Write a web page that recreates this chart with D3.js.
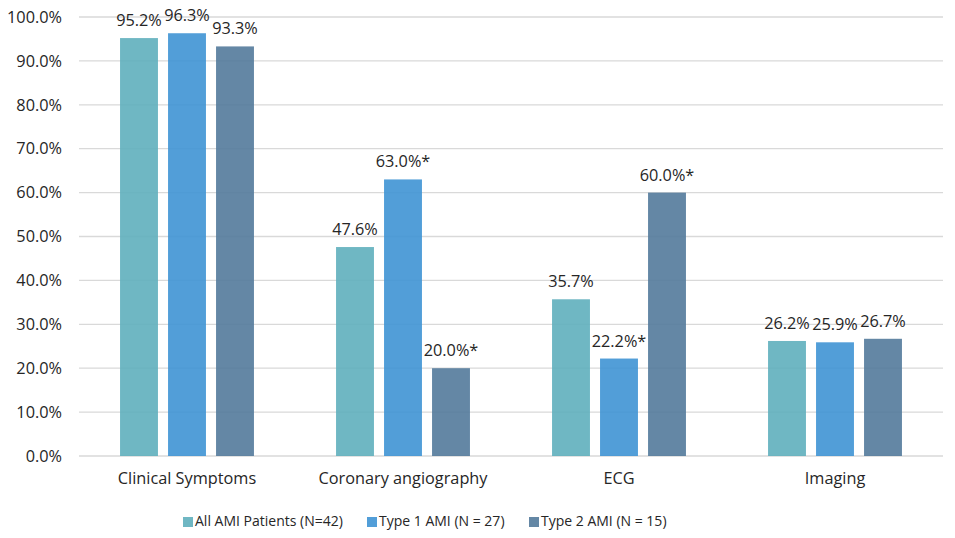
<!DOCTYPE html>
<html>
<head>
<meta charset="utf-8">
<script src="https://cdn.jsdelivr.net/npm/d3@7"></script>
<style>
  body { margin: 0; background: #fff; }
  text { font-family: "Open Sans", "Noto Sans", sans-serif; fill: #262626; }
</style>
</head>
<body>
<div id="chart-area"></div>
<script>
// data
const categories = ["Clinical Symptoms", "Coronary angiography", "ECG", "Imaging"]
const seriesNames = ["All AMI Patients (N=42)", "Type 1 AMI (N = 27)", "Type 2 AMI (N = 15)"]
const allAmi = [95.2, 47.6, 35.7, 26.2]
const type1 = [96.3, 63.0, 22.2, 25.9]
const type2 = [93.3, 20.0, 60.0, 26.7]
const allAmiFlags = ["", "", "", ""]
const type1Flags = ["", "*", "*", ""]
const type2Flags = ["", "*", "*", ""]
const yTicks = [0, 10, 20, 30, 40, 50, 60, 70, 80, 90, 100]

// semi-transparent bars, grid shows through
const COLORS = ["#5fafbd", "#3f94d4", "#537a9b"]

const W = 955, H = 538
const MARGIN = { LEFT: 79, RIGHT: 12, TOP: 17, BOTTOM: 82 }
const WIDTH = W - MARGIN.LEFT - MARGIN.RIGHT
const HEIGHT = H - MARGIN.TOP - MARGIN.BOTTOM

const series = [
  { name: seriesNames[0], values: allAmi, flags: allAmiFlags },
  { name: seriesNames[1], values: type1, flags: type1Flags },
  { name: seriesNames[2], values: type2, flags: type2Flags }
]

const svg = d3.select("#chart-area").append("svg")
  .attr("width", W)
  .attr("height", H)

const g = svg.append("g")
  .attr("transform", `translate(${MARGIN.LEFT}, ${MARGIN.TOP})`)

const x = d3.scaleBand()
  .domain(categories)
  .range([0, WIDTH])

const x1 = d3.scaleBand()
  .domain(d3.range(series.length))
  .range([x.bandwidth() * 0.19, x.bandwidth() * 0.81])
  .paddingInner(0.21)

const y = d3.scaleLinear()
  .domain([0, 100])
  .range([HEIGHT, 0])

// gridlines
g.append("g")
  .selectAll("line")
  .data(yTicks)
  .enter().append("line")
    .attr("x1", 0)
    .attr("x2", WIDTH)
    .attr("y1", d => y(d))
    .attr("y2", d => y(d))
    .attr("stroke", "#d9d9d9")
    .attr("stroke-width", 1.3)

// y axis labels
const yAxisCall = d3.axisLeft(y)
  .tickValues(yTicks)
  .tickSize(0)
  .tickPadding(17)
  .tickFormat(d => d.toFixed(1) + "%")
const yAxis = g.append("g").call(yAxisCall)
yAxis.select(".domain").remove()
yAxis.selectAll("text")
  .attr("font-size", "16.3px")
  .attr("fill", "#262626")
  .style("font-family", "'Open Sans', sans-serif")

// x axis labels
const xAxisCall = d3.axisBottom(x).tickSize(0).tickPadding(16)
const xAxis = g.append("g")
  .attr("transform", `translate(0, ${HEIGHT})`)
  .call(xAxisCall)
xAxis.select(".domain").remove()
xAxis.selectAll("text")
  .attr("font-size", "16.3px")
  .attr("fill", "#262626")
  .style("font-family", "'Open Sans', sans-serif")

// bars
const groups = g.selectAll(".grp")
  .data(series)
  .enter().append("g")
    .attr("class", "grp")

const cells = (s, i) => s.values.map((v, j) => ({ v, cat: categories[j], si: i, flag: s.flags[j] }))

groups.selectAll("rect")
  .data(cells)
  .enter().append("rect")
    .attr("x", d => x(d.cat) + x1(d.si))
    .attr("y", d => y(d.v))
    .attr("width", x1.bandwidth())
    .attr("height", d => HEIGHT - y(d.v))
    .attr("fill", d => COLORS[d.si])
    .attr("fill-opacity", 0.9)

groups.selectAll(".lbl")
  .data(cells)
  .enter().append("text")
    .attr("class", "lbl")
    .attr("x", d => x(d.cat) + x1(d.si) + x1.bandwidth() / 2)
    .attr("y", d => y(d.v) - 12)
    .attr("text-anchor", "middle")
    .attr("font-size", "16.3px")
    .text(d => d.v.toFixed(1) + "%" + d.flag)

// legend
const legend = svg.append("g")
  .attr("transform", `translate(0, 526)`)
const legendX = [183, 367, 529]
series.forEach((s, i) => {
  legend.append("rect")
    .attr("x", legendX[i])
    .attr("y", -9)
    .attr("width", 10)
    .attr("height", 10)
    .attr("fill", COLORS[i])
    .attr("fill-opacity", 0.9)
  legend.append("text")
    .attr("x", legendX[i] + 12)
    .attr("y", 0)
    .attr("font-size", "14px")
    .text(s.name)
})
</script>
</body>
</html>
